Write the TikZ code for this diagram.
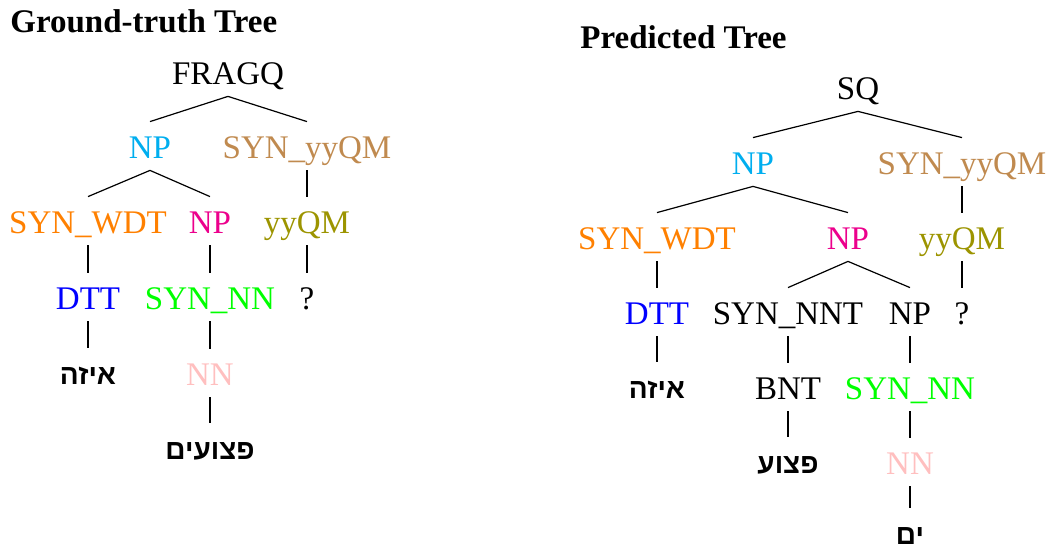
\documentclass[tikz,border=0pt]{standalone}
\usepackage{fontspec}
\setmainfont{Liberation Serif}
\newfontfamily\hebfont[Script=Hebrew]{Liberation Sans}
\TeXXeTstate=1
\usepackage{tikz}
\usetikzlibrary{positioning}
\definecolor{NPCyan}{HTML}{00AEEF}
\definecolor{SynBrown}{HTML}{C08A4F}
\definecolor{WdtOrange}{HTML}{FF8000}
\definecolor{NPMagenta}{HTML}{EC008C}
\definecolor{QmOlive}{HTML}{9C9400}
\definecolor{DttBlue}{HTML}{0000FF}
\definecolor{NnGreen}{HTML}{00FF00}
\definecolor{NnPink}{HTML}{FFBFBF}

\begin{document}
\begin{tikzpicture}[x=0.5pt, y=-0.5pt]
\tikzset{lab/.style={anchor=base, inner xsep=1pt, inner ysep=0pt, text height=18.5pt, text depth=5.5pt, font=\fontsize{16.5}{18}\selectfont}, heb/.style={lab, font=\fontsize{14}{16}\selectfont\hebfont\bfseries}, head/.style={anchor=base west, inner sep=0pt, font=\fontsize{16.5}{18}\selectfont\bfseries}, edge/.style={line width=0.6pt}}
\useasboundingbox (0,0) rectangle (1050,550);

% ground-truth tree
\node[head] (gt) at (10,33) {Ground-truth Tree};
\node[lab] (gs) at (228,85) {FRAGQ};
\node[lab, NPCyan] (gnp) at (150,159) {NP};
\node[lab, SynBrown] (gsq) at (307,159) {SYN\_yyQM};
\node[lab, WdtOrange] (gwdt) at (88,234) {SYN\_WDT};
\node[lab, NPMagenta] (gnp2) at (210,234) {NP};
\node[lab, QmOlive] (gqm) at (307,234) {yyQM};
\node[lab, DttBlue] (gdtt) at (88,310) {DTT};
\node[lab, NnGreen] (gsyn) at (210,310) {SYN\_NN};
\node[lab] (gq) at (307,310) {?};
\node[heb] (gw1) at (88,385) {\beginR איזה\endR};
\node[lab, NnPink] (gnn) at (210,386) {NN};
\node[heb] (gw2) at (210,460) {\beginR פצועים\endR};
\foreach \a/\b in {gs/gnp,gs/gsq,gnp/gwdt,gnp/gnp2,gsq/gqm,gwdt/gdtt,gnp2/gsyn,gqm/gq,gdtt/gw1,gsyn/gnn,gnn/gw2} \draw[edge] (\a.south) -- (\b.north);

% predicted tree
\node[head] (pt) at (580,49) {Predicted Tree};
\node[lab] (ps) at (858,100) {SQ};
\node[lab, NPCyan] (pnp) at (753,175) {NP};
\node[lab, SynBrown] (psq) at (962,175) {SYN\_yyQM};
\node[lab, WdtOrange] (pwdt) at (657,250) {SYN\_WDT};
\node[lab, NPMagenta] (pnp2) at (848,250) {NP};
\node[lab, QmOlive] (pqm) at (962,250) {yyQM};
\node[lab, DttBlue] (pdtt) at (657,325) {DTT};
\node[lab] (pnnt) at (788,325) {SYN\_NNT};
\node[lab] (pnp3) at (910,325) {NP};
\node[lab] (pq) at (962,325) {?};
\node[heb] (pw1) at (657,399) {\beginR איזה\endR};
\node[lab] (pbnt) at (788,400) {BNT};
\node[lab, NnGreen] (psyn) at (910,400) {SYN\_NN};
\node[heb] (pw2) at (788,474) {\beginR פצוע\endR};
\node[lab, NnPink] (pnn) at (910,475) {NN};
\node[heb] (pw3) at (910,545) {\beginR ים\endR};
\foreach \a/\b in {ps/pnp,ps/psq,pnp/pwdt,pnp/pnp2,psq/pqm,pwdt/pdtt,pnp2/pnnt,pnp2/pnp3,pqm/pq,pdtt/pw1,pnnt/pbnt,pnp3/psyn,pbnt/pw2,psyn/pnn,pnn/pw3} \draw[edge] (\a.south) -- (\b.north);
\end{tikzpicture}
\end{document}
